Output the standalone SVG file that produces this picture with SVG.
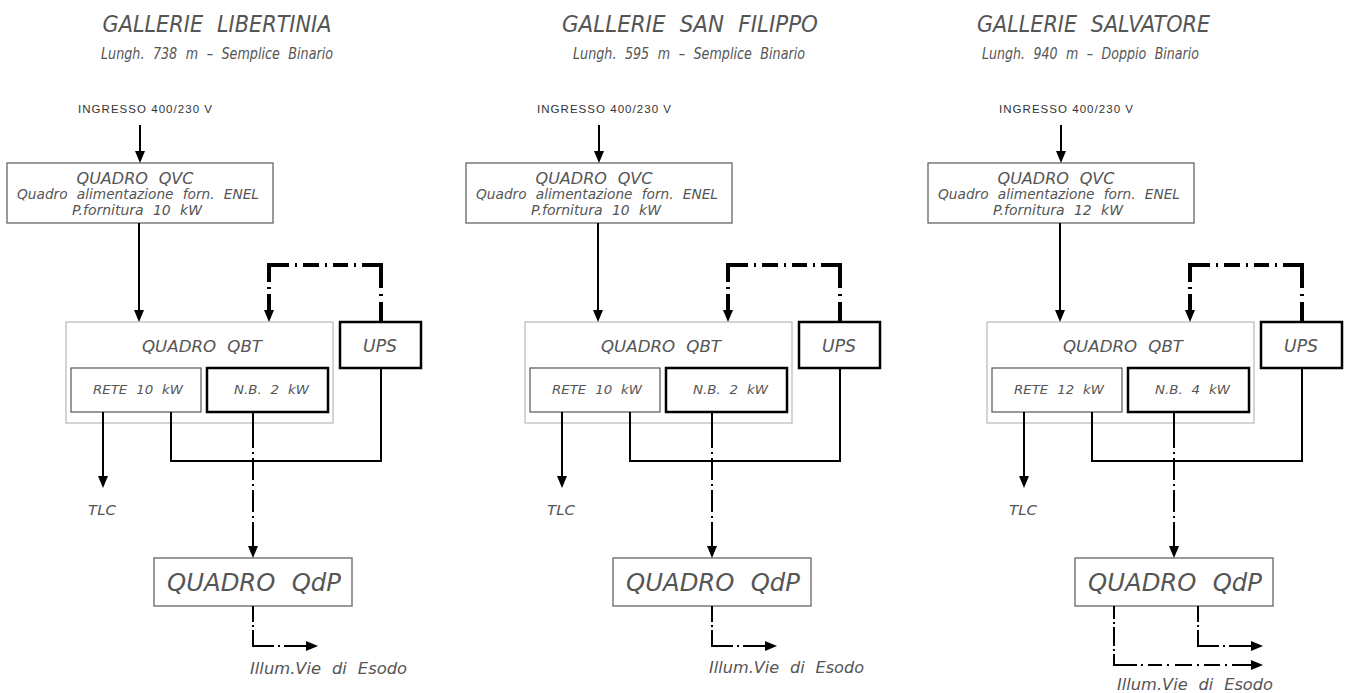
<svg xmlns="http://www.w3.org/2000/svg" width="1349" height="693" viewBox="0 0 1349 693">
<defs>
<style>
.t{font-family:"DejaVu Sans","Liberation Sans",Arial,sans-serif;font-style:italic;font-weight:200;fill:#555;text-anchor:middle;word-spacing:0.35em}
.n{font-style:normal;fill:#333;font-family:"Liberation Sans",Arial,sans-serif;font-weight:400;word-spacing:0}
.bx{fill:none;stroke:#666;stroke-width:1.3}
.bq{fill:none;stroke:#aaa;stroke-width:1}
.br{fill:none;stroke:#555;stroke-width:1.2}
.bk{fill:none;stroke:#000;stroke-width:2.5}
.w{fill:none;stroke:#000;stroke-width:2}
.loop{fill:none;stroke:#000;stroke-width:4;stroke-dasharray:20 6 2 6 42 6 2 6 15 6 2 6 16 6 2 6 37 5 2 5 40}
.dnb{fill:none;stroke:#000;stroke-width:2;stroke-dasharray:36 4 2 4 22 4 2 4 22 4 2 4 40}
.dout{fill:none;stroke:#000;stroke-width:2;stroke-dasharray:16 3 2 3 37 4 2 4 40}
.dlong{fill:none;stroke:#000;stroke-width:2;stroke-dasharray:13 3 2 3 19 3 2 3 34 4 2 5 14 5 2 6 17 5 2 5 16 5 2 5 40}
</style>
<marker id="ah" markerWidth="12" markerHeight="10" refX="0" refY="5" orient="auto" markerUnits="userSpaceOnUse">
<path d="M0,0 L12,5 L0,10 z" fill="#000"/>
</marker>
</defs>
<rect width="1349" height="693" fill="#fff"/>

<g id="col1">
 <g id="c1-title">
  <text class="t" x="217" y="32" font-size="23" textLength="229" lengthAdjust="spacingAndGlyphs">GALLERIE LIBERTINIA</text>
  <text class="t" x="217" y="59" font-size="16" textLength="232" lengthAdjust="spacingAndGlyphs">Lungh. 738 m – Semplice Binario</text>
 </g>
 <g id="c1-in"><text class="t n" x="145" y="113" font-size="11.5" textLength="134" lengthAdjust="spacing">INGRESSO 400/230 V</text></g>
 <g id="c1-qvc">
  <rect class="bx" x="7" y="163" width="266" height="60"/>
  <text class="t" x="135" y="184" font-size="15.5" textLength="117" lengthAdjust="spacingAndGlyphs">QUADRO QVC</text>
  <text class="t" x="138" y="199" font-size="13.5" textLength="242" lengthAdjust="spacingAndGlyphs">Quadro alimentazione forn. ENEL</text>
  <text class="t" x="137" y="215" font-size="14" textLength="130" lengthAdjust="spacingAndGlyphs">P.fornitura 10 kW</text>
 </g>
 <g id="c1-qbt"><rect class="bq" x="66" y="322" width="267" height="101"/><text class="t" x="202" y="352" font-size="16.5" textLength="120" lengthAdjust="spacingAndGlyphs">QUADRO QBT</text></g>
 <g id="c1-rete"><rect class="br" x="71" y="368" width="130" height="44"/><text class="t" x="138" y="394" font-size="13" textLength="90" lengthAdjust="spacingAndGlyphs">RETE 10 kW</text></g>
 <g id="c1-nb"><rect class="bk" x="207" y="368" width="121" height="44"/><text class="t" x="271.5" y="394" font-size="13" textLength="75" lengthAdjust="spacingAndGlyphs">N.B. 2 kW</text></g>
 <g id="c1-ups"><rect class="bk" x="340" y="322" width="81" height="46"/><text class="t" x="380" y="352" font-size="17.5" textLength="34" lengthAdjust="spacingAndGlyphs">UPS</text></g>
 <g id="c1-tlc"><text class="t" x="102" y="515" font-size="13.5" textLength="28" lengthAdjust="spacingAndGlyphs">TLC</text></g>
 <g id="c1-qdp"><rect class="bx" x="154" y="558" width="198" height="48"/><text class="t" x="254" y="591" font-size="25" textLength="174" lengthAdjust="spacingAndGlyphs">QUADRO QdP</text></g>
 <g id="c1-illum"><text class="t" x="328.5" y="674" font-size="15" textLength="157" lengthAdjust="spacingAndGlyphs">Illum.Vie di Esodo</text></g>
</g>

<g id="col2" transform="translate(459,0)">
 <g id="c2-title">
  <text class="t" x="231" y="32" font-size="23" textLength="256" lengthAdjust="spacingAndGlyphs">GALLERIE SAN FILIPPO</text>
  <text class="t" x="230" y="59" font-size="16" textLength="232" lengthAdjust="spacingAndGlyphs">Lungh. 595 m – Semplice Binario</text>
 </g>
 <g id="c2-in"><text class="t n" x="145" y="113" font-size="11.5" textLength="134" lengthAdjust="spacing">INGRESSO 400/230 V</text></g>
 <g id="c2-qvc">
  <rect class="bx" x="7" y="163" width="266" height="60"/>
  <text class="t" x="135" y="184" font-size="15.5" textLength="117" lengthAdjust="spacingAndGlyphs">QUADRO QVC</text>
  <text class="t" x="138" y="199" font-size="13.5" textLength="242" lengthAdjust="spacingAndGlyphs">Quadro alimentazione forn. ENEL</text>
  <text class="t" x="137" y="215" font-size="14" textLength="130" lengthAdjust="spacingAndGlyphs">P.fornitura 10 kW</text>
 </g>
 <g id="c2-qbt"><rect class="bq" x="66" y="322" width="267" height="101"/><text class="t" x="202" y="352" font-size="16.5" textLength="120" lengthAdjust="spacingAndGlyphs">QUADRO QBT</text></g>
 <g id="c2-rete"><rect class="br" x="71" y="368" width="130" height="44"/><text class="t" x="138" y="394" font-size="13" textLength="90" lengthAdjust="spacingAndGlyphs">RETE 10 kW</text></g>
 <g id="c2-nb"><rect class="bk" x="207" y="368" width="121" height="44"/><text class="t" x="271.5" y="394" font-size="13" textLength="75" lengthAdjust="spacingAndGlyphs">N.B. 2 kW</text></g>
 <g id="c2-ups"><rect class="bk" x="340" y="322" width="81" height="46"/><text class="t" x="380" y="352" font-size="17.5" textLength="34" lengthAdjust="spacingAndGlyphs">UPS</text></g>
 <g id="c2-tlc"><text class="t" x="102" y="515" font-size="13.5" textLength="28" lengthAdjust="spacingAndGlyphs">TLC</text></g>
 <g id="c2-qdp"><rect class="bx" x="154" y="558" width="198" height="48"/><text class="t" x="254" y="591" font-size="25" textLength="174" lengthAdjust="spacingAndGlyphs">QUADRO QdP</text></g>
 <g id="c2-illum"><text class="t" x="327.5" y="673" font-size="15" textLength="155" lengthAdjust="spacingAndGlyphs">Illum.Vie di Esodo</text></g>
</g>

<g id="col3" transform="translate(921,0)">
 <g id="c3-title">
  <text class="t" x="172.5" y="32" font-size="23" textLength="233" lengthAdjust="spacingAndGlyphs">GALLERIE SALVATORE</text>
  <text class="t" x="169.5" y="59" font-size="16" textLength="217" lengthAdjust="spacingAndGlyphs">Lungh. 940 m – Doppio Binario</text>
 </g>
 <g id="c3-in"><text class="t n" x="145" y="113" font-size="11.5" textLength="134" lengthAdjust="spacing">INGRESSO 400/230 V</text></g>
 <g id="c3-qvc">
  <rect class="bx" x="7" y="163" width="266" height="60"/>
  <text class="t" x="135" y="184" font-size="15.5" textLength="117" lengthAdjust="spacingAndGlyphs">QUADRO QVC</text>
  <text class="t" x="138" y="199" font-size="13.5" textLength="242" lengthAdjust="spacingAndGlyphs">Quadro alimentazione forn. ENEL</text>
  <text class="t" x="137" y="215" font-size="14" textLength="130" lengthAdjust="spacingAndGlyphs">P.fornitura 12 kW</text>
 </g>
 <g id="c3-qbt"><rect class="bq" x="66" y="322" width="267" height="101"/><text class="t" x="202" y="352" font-size="16.5" textLength="120" lengthAdjust="spacingAndGlyphs">QUADRO QBT</text></g>
 <g id="c3-rete"><rect class="br" x="71" y="368" width="130" height="44"/><text class="t" x="138" y="394" font-size="13" textLength="90" lengthAdjust="spacingAndGlyphs">RETE 12 kW</text></g>
 <g id="c3-nb"><rect class="bk" x="207" y="368" width="121" height="44"/><text class="t" x="271.5" y="394" font-size="13" textLength="75" lengthAdjust="spacingAndGlyphs">N.B. 4 kW</text></g>
 <g id="c3-ups"><rect class="bk" x="340" y="322" width="81" height="46"/><text class="t" x="380" y="352" font-size="17.5" textLength="34" lengthAdjust="spacingAndGlyphs">UPS</text></g>
 <g id="c3-tlc"><text class="t" x="102" y="515" font-size="13.5" textLength="28" lengthAdjust="spacingAndGlyphs">TLC</text></g>
 <g id="c3-qdp"><rect class="bx" x="154" y="558" width="198" height="48"/><text class="t" x="254" y="591" font-size="25" textLength="174" lengthAdjust="spacingAndGlyphs">QUADRO QdP</text></g>
 <g id="c3-illum"><text class="t" x="274" y="690" font-size="15" textLength="156" lengthAdjust="spacingAndGlyphs">Illum.Vie di Esodo</text></g>
</g>

<g id="connectors">
 <g id="conn-c1">
  <path class="w" d="M140,125 V151" marker-end="url(#ah)"/>
  <path class="w" d="M139,223 V310" marker-end="url(#ah)"/>
  <path class="loop" d="M381,322 V265 H269 V310" marker-end="url(#ah)"/>
  <path class="w" d="M381,368 V461 H171 V412"/>
  <path class="w" d="M103,412 V476" marker-end="url(#ah)"/>
  <path class="dnb" d="M253,412 V546" marker-end="url(#ah)"/>
  <path class="dout" d="M253,606 V646 H306" marker-end="url(#ah)"/>
 </g>
 <g id="conn-c2" transform="translate(459,0)">
  <path class="w" d="M140,125 V151" marker-end="url(#ah)"/>
  <path class="w" d="M139,223 V310" marker-end="url(#ah)"/>
  <path class="loop" d="M381,322 V265 H269 V310" marker-end="url(#ah)"/>
  <path class="w" d="M381,368 V461 H171 V412"/>
  <path class="w" d="M103,412 V476" marker-end="url(#ah)"/>
  <path class="dnb" d="M253,412 V546" marker-end="url(#ah)"/>
  <path class="dout" d="M253,606 V646 H306" marker-end="url(#ah)"/>
 </g>
 <g id="conn-c3" transform="translate(921,0)">
  <path class="w" d="M140,125 V151" marker-end="url(#ah)"/>
  <path class="w" d="M139,223 V310" marker-end="url(#ah)"/>
  <path class="loop" d="M381,322 V265 H269 V310" marker-end="url(#ah)"/>
  <path class="w" d="M381,368 V461 H171 V412"/>
  <path class="w" d="M103,412 V476" marker-end="url(#ah)"/>
  <path class="dnb" d="M253,412 V546" marker-end="url(#ah)"/>
  <path class="dout" d="M277,606 V646 H330" marker-end="url(#ah)"/>
  <path class="dlong" d="M193,606 V665 H330" marker-end="url(#ah)"/>
 </g>
</g>
</svg>
